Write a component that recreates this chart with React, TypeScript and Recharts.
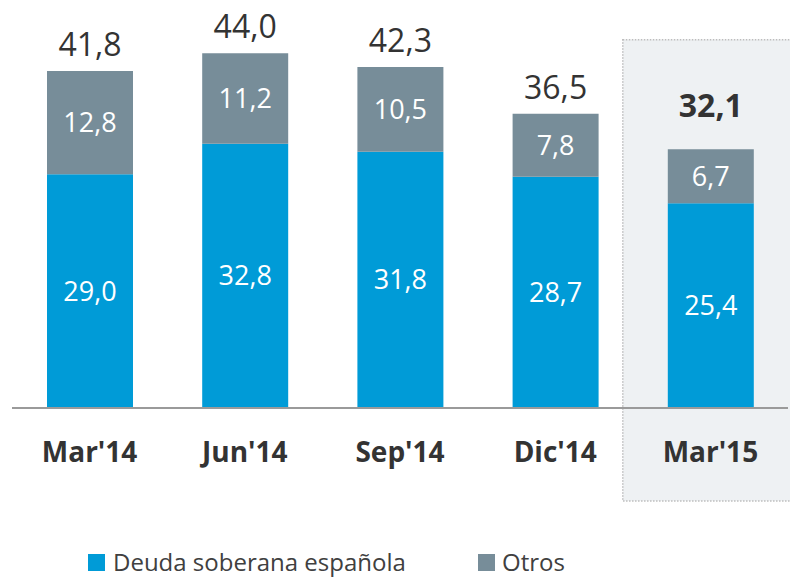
import React from 'react';
import { BarChart, Bar, XAxis, YAxis, LabelList, ReferenceArea } from 'recharts';

const categories = ["Mar'14", "Jun'14", "Sep'14", "Dic'14", "Mar'15"];
const deuda = [29.0, 32.8, 31.8, 28.7, 25.4];
const otros = [12.8, 11.2, 10.5, 7.8, 6.7];
const totals = [41.8, 44.0, 42.3, 36.5, 32.1];
const seriesNames = ['Deuda soberana española', 'Otros'];

const BLUE = '#009BD7';
const GRAY = '#778D99';
const TEXT = '#333333';
const FONT = '"Open Sans", "Noto Sans", sans-serif';

const data = categories.map((c, i) => ({
  cat: c,
  deuda: deuda[i],
  otros: otros[i],
  total: totals[i],
}));

const fmt = (v: number) => v.toFixed(1).replace('.', ',');

const TopLabel = (props: any) => {
  const { x, y, width, index, value } = props;
  const isLast = index === categories.length - 1;
  return (
    <text
      x={x + width / 2}
      y={y - (isLast ? 32 : 15)}
      textAnchor="middle"
      fontFamily={FONT}
      fontSize={32}
      fontWeight={isLast ? 700 : 400}
      fill={TEXT}
    >
      {fmt(Number(value))}
    </text>
  );
};

const CatTick = (props: any) => {
  const { x, payload } = props;
  return (
    <text
      x={x}
      y={462}
      textAnchor="middle"
      fontFamily={FONT}
      fontSize={28}
      fontWeight={700}
      fill={TEXT}
    >
      {payload.value}
    </text>
  );
};

const HighlightBox = (props: any) => {
  const { x, y, width, height } = props;
  return (
    <rect
      x={x - 10}
      y={y}
      width={width + 20}
      height={height + 93}
      fill="#EEF1F3"
      stroke="#BDBDBD"
      strokeWidth={1.5}
      strokeDasharray="1.5 1.5"
    />
  );
};

export default function App() {
  return (
    <div style={{ position: 'absolute', left: 0, top: 0, width: 790, height: 580, background: '#fff' }}>
      <BarChart
        width={790}
        height={580}
        data={data}
        margin={{ top: 5, right: 2, bottom: 142, left: 12 }}
        barSize={86}
      >
        <ReferenceArea
          x1="Mar'15"
          x2="Mar'15"
          y1={0}
          y2={45.7}
          shape={<HighlightBox />}
          ifOverflow="visible"
        />
        <XAxis
          dataKey="cat"
          axisLine={{ stroke: '#9A9A9A', strokeWidth: 2 }}
          tickLine={false}
          tickSize={0}
          tickMargin={0}
          tick={<CatTick />}
          interval={0}
          height={30}
        />
        <YAxis hide domain={[0, 50]} allowDataOverflow />
        <Bar dataKey="deuda" stackId="a" fill={BLUE} isAnimationActive={false} name={seriesNames[0]}>
          <LabelList
            dataKey="deuda"
            position="center"
            fill="#ffffff"
            fontSize={27}
            fontFamily={FONT}
            formatter={(v: any) => fmt(Number(v))}
          />
        </Bar>
        <Bar dataKey="otros" stackId="a" fill={GRAY} isAnimationActive={false} name={seriesNames[1]}>
          <LabelList
            dataKey="otros"
            position="center"
            fill="#ffffff"
            fontSize={27}
            fontFamily={FONT}
            formatter={(v: any) => fmt(Number(v))}
          />
          <LabelList dataKey="total" content={<TopLabel />} />
        </Bar>
      </BarChart>
      <div
        style={{
          position: 'absolute',
          left: 88,
          top: 549,
          display: 'flex',
          alignItems: 'center',
          fontFamily: FONT,
          fontSize: 24,
          color: '#404040',
          lineHeight: '26px',
        }}
      >
        <span style={{ display: 'inline-block', width: 17, height: 17, background: BLUE, marginRight: 8 }} />
        <span style={{ width: 365, whiteSpace: 'nowrap' }}>{seriesNames[0]}</span>
        <span style={{ display: 'inline-block', width: 17, height: 17, background: GRAY, marginRight: 7 }} />
        <span style={{ whiteSpace: 'nowrap' }}>{seriesNames[1]}</span>
      </div>
    </div>
  );
}
